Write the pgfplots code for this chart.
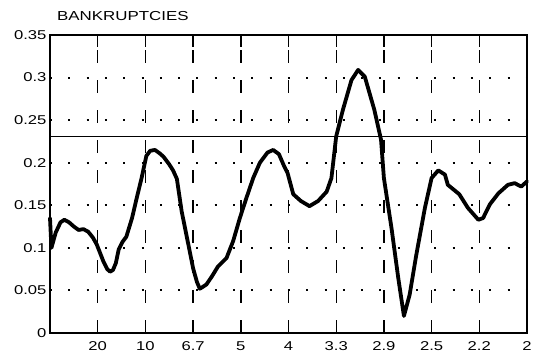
\documentclass[border=0pt]{standalone}
\usepackage{fontspec}
\setmainfont{Liberation Sans}
\usepackage{graphicx}
\usepackage{pgfplots}
\pgfplotsset{compat=1.18}
\newcommand{\wide}[1]{\scalebox{1.3}[1]{#1}}
\begin{document}
\begin{tikzpicture}
\begin{axis}[
  at={(0,0)}, anchor=south west,
  scale only axis, width=477bp, height=298bp,
  xmin=0, xmax=0.5, ymin=0, ymax=0.35,
  xtick={0.05,0.1,0.15,0.2,0.25,0.3,0.35,0.4,0.45,0.5},
  xticklabels={\wide{20},\wide{10},\wide{6.7},\wide{5},\wide{4},\wide{3.3},\wide{2.9},\wide{2.5},\wide{2.2},\wide{2}},
  ytick={0,0.05,0.1,0.15,0.2,0.25,0.3,0.35},
  yticklabels={\wide{0},\wide{0.05},\wide{0.1},\wide{0.15},\wide{0.2},\wide{0.25},\wide{0.3},\wide{0.35}},
  tick label style={font=\fontsize{12.8bp}{14bp}\selectfont},
  xticklabel style={yshift=-5bp},
  tick align=inside,
  major tick length=12bp,
  xtick style={line width=1.4bp, black},
  ytick style={draw=none},
  xmajorgrids, ymajorgrids,
  x grid style={black, line width=1.4bp, dash pattern=on 13bp off 17bp},
  y grid style={black, line width=2bp, dash pattern=on 2bp off 16.3bp},
  axis line style={line width=1.6bp},
  clip=false,
]
\addplot[black, line width=3.8bp, line join=round, line cap=round] coordinates {
(0,0.135) (0.0015,0.100) (0.006,0.118) (0.011,0.130) (0.015,0.133)
(0.020,0.130) (0.025,0.125) (0.030,0.121) (0.035,0.122) (0.040,0.119)
(0.045,0.112) (0.049,0.104) (0.056,0.084) (0.060,0.075) (0.063,0.072)
(0.066,0.074) (0.069,0.082) (0.072,0.098) (0.076,0.107) (0.080,0.113)
(0.086,0.135) (0.091,0.159) (0.096,0.182) (0.101,0.208) (0.105,0.214)
(0.110,0.215) (0.115,0.211) (0.119,0.207) (0.125,0.198) (0.129,0.191)
(0.133,0.181) (0.138,0.143) (0.145,0.104) (0.150,0.076) (0.154,0.060)
(0.157,0.052) (0.160,0.054) (0.164,0.057) (0.170,0.067) (0.176,0.078)
(0.185,0.088) (0.192,0.108) (0.199,0.135) (0.206,0.159) (0.213,0.182)
(0.220,0.200) (0.228,0.212) (0.234,0.215) (0.240,0.210) (0.245,0.197)
(0.249,0.188) (0.255,0.163) (0.263,0.155) (0.272,0.149) (0.281,0.155)
(0.290,0.166) (0.295,0.182) (0.300,0.231) (0.307,0.262) (0.316,0.297)
(0.323,0.309) (0.330,0.301) (0.340,0.262) (0.347,0.227) (0.350,0.182)
(0.358,0.123) (0.365,0.065) (0.371,0.020) (0.377,0.045) (0.384,0.092)
(0.393,0.147) (0.400,0.182) (0.407,0.191) (0.414,0.186) (0.417,0.174)
(0.429,0.163) (0.438,0.147) (0.449,0.133) (0.454,0.135) (0.461,0.151)
(0.470,0.164) (0.480,0.174) (0.487,0.176) (0.494,0.172) (0.500,0.178)
};
\addplot[black, line width=1.1bp] coordinates {(0,0.231) (0.5,0.231)};
\end{axis}
\node[anchor=west, inner sep=0pt] at (7bp,317bp) {\fontsize{13bp}{15bp}\selectfont\scalebox{1.3}[1]{BANKRUPTCIES}};
\pgfresetboundingbox
\path[use as bounding box] (-50bp,-25bp) rectangle (487bp,333bp);
\end{tikzpicture}
\end{document}
